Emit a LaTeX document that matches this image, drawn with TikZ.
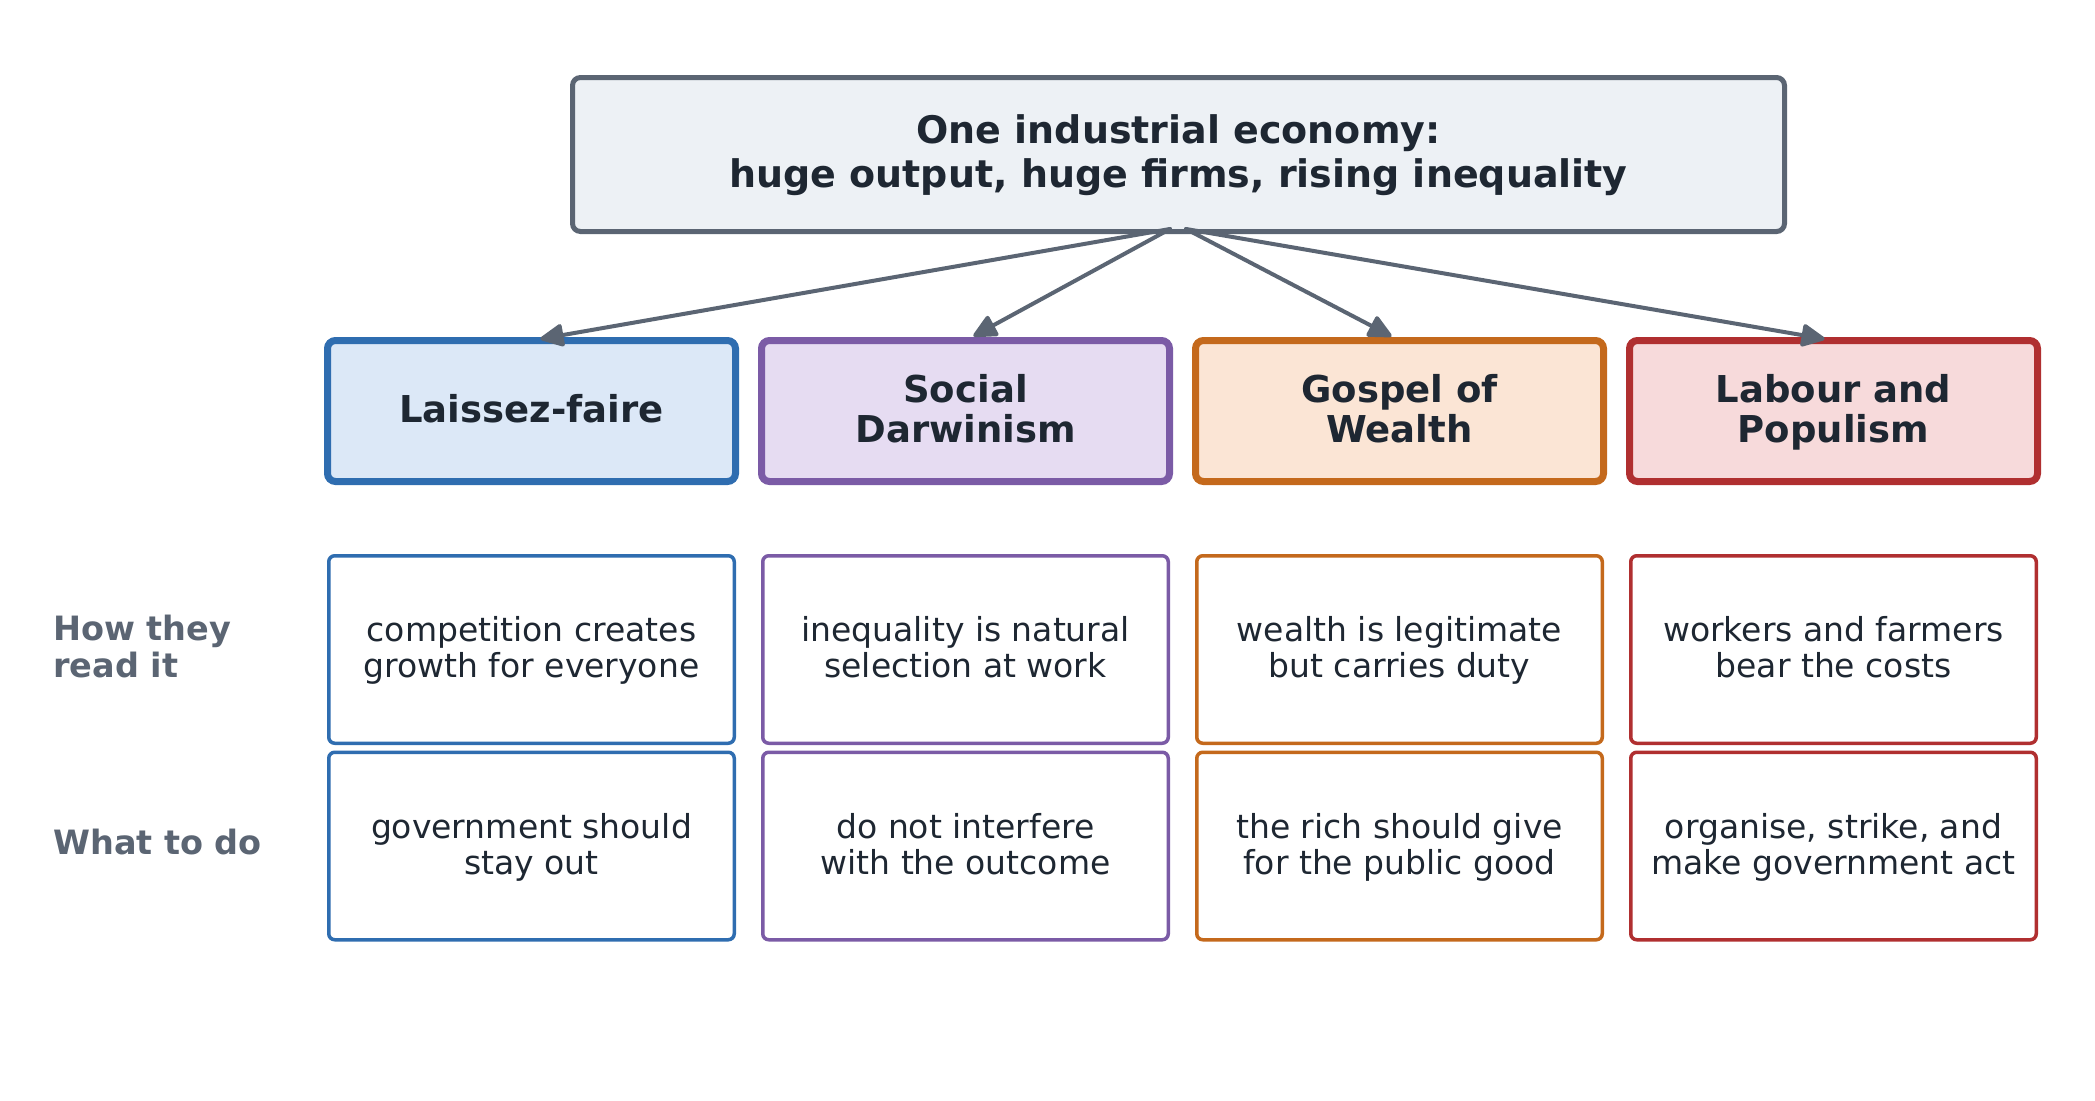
\documentclass[tikz,border=0pt]{standalone}
\usepackage{fontspec}
\setmainfont{DejaVu Sans}
\usetikzlibrary{arrows.meta}
\definecolor{inkdark}{HTML}{1E2732}
\definecolor{slate}{HTML}{5B6573}
\definecolor{titlefill}{HTML}{EDF1F5}
\definecolor{blueline}{HTML}{2F6DB0}
\definecolor{bluefill}{HTML}{DCE8F7}
\definecolor{purpline}{HTML}{7B5BA6}
\definecolor{purpfill}{HTML}{E6DCF2}
\definecolor{orgline}{HTML}{C4691C}
\definecolor{orgfill}{HTML}{FBE5D5}
\definecolor{redline}{HTML}{B02F30}
\definecolor{redfill}{HTML}{F7DADB}
\tikzset{
  titlebox/.style={draw=slate, fill=titlefill, line width=5pt, rounded corners=8pt,
    minimum width=1212pt, minimum height=154pt, inner sep=0pt, align=center,
    text=inkdark, text depth=7pt, font=\fontsize{38}{44}\selectfont\bfseries},
  headbox/.style={line width=7pt, rounded corners=8pt, minimum width=408pt,
    minimum height=141pt, inner sep=0pt, align=center, text=inkdark, text depth=6pt,
    font=\fontsize{37}{40}\selectfont\bfseries},
  cellbox/.style={line width=3.5pt, rounded corners=6pt, minimum width=405.5pt,
    minimum height=187.5pt, inner sep=0pt, align=center, text=inkdark, fill=white,
    text depth=5pt, font=\fontsize{33}{36}\selectfont},
  rowlabel/.style={anchor=west, inner sep=0pt, align=left, text=slate, text depth=8pt,
    font=\fontsize{33.5}{37}\selectfont\bfseries},
  arr/.style={draw=slate, line width=4pt, line cap=round,
    -{Triangle[length=26pt,width=24pt,round]}, shorten >=9pt},
}
\begin{document}
\begin{tikzpicture}[x=1pt,y=-1pt]
\useasboundingbox (0,0) rectangle (2095,1100);
\node[titlebox] (title) at (1178.5,154.5) {One industrial economy:\\huge output, huge firms, rising inequality};

\node[headbox, draw=blueline, fill=bluefill] (h1) at (531.5,411) {Laissez-faire};
\node[headbox, draw=purpline, fill=purpfill] (h2) at (965.5,411) {Social\\Darwinism};
\node[headbox, draw=orgline, fill=orgfill] (h3) at (1399.5,411) {Gospel of\\Wealth};
\node[headbox, draw=redline, fill=redfill] (h4) at (1833.5,411) {Labour and\\Populism};

\draw[arr] ([xshift=-8.5pt,yshift=5pt]title.south) -- ([yshift=-3.5pt]h1.north);
\draw[arr] ([xshift=-8.5pt,yshift=5pt]title.south) -- ([yshift=-3.5pt]h2.north);
\draw[arr] ([xshift=7.5pt,yshift=5pt]title.south) -- ([yshift=-3.5pt]h3.north);
\draw[arr] ([xshift=7.5pt,yshift=5pt]title.south) -- ([yshift=-3.5pt]h4.north);

\node[cellbox, draw=blueline] (r1c1) at (531.5,649.5) {competition creates\\growth for everyone};
\node[cellbox, draw=purpline] (r1c2) at (965.5,649.5) {inequality is natural\\selection at work};
\node[cellbox, draw=orgline] (r1c3) at (1399.5,649.5) {wealth is legitimate\\but carries duty};
\node[cellbox, draw=redline] (r1c4) at (1833.5,649.5) {workers and farmers\\bear the costs};

\node[cellbox, draw=blueline] (r2c1) at (531.5,846) {government should\\stay out};
\node[cellbox, draw=purpline] (r2c2) at (965.5,846) {do not interfere\\with the outcome};
\node[cellbox, draw=orgline] (r2c3) at (1399.5,846) {the rich should give\\for the public good};
\node[cellbox, draw=redline] (r2c4) at (1833.5,846) {organise, strike, and\\make government act};

\node[rowlabel] (lab1) at (53,650) {How they\\read it};
\node[rowlabel] (lab2) at (53,846) {What to do};
\end{tikzpicture}
\end{document}
